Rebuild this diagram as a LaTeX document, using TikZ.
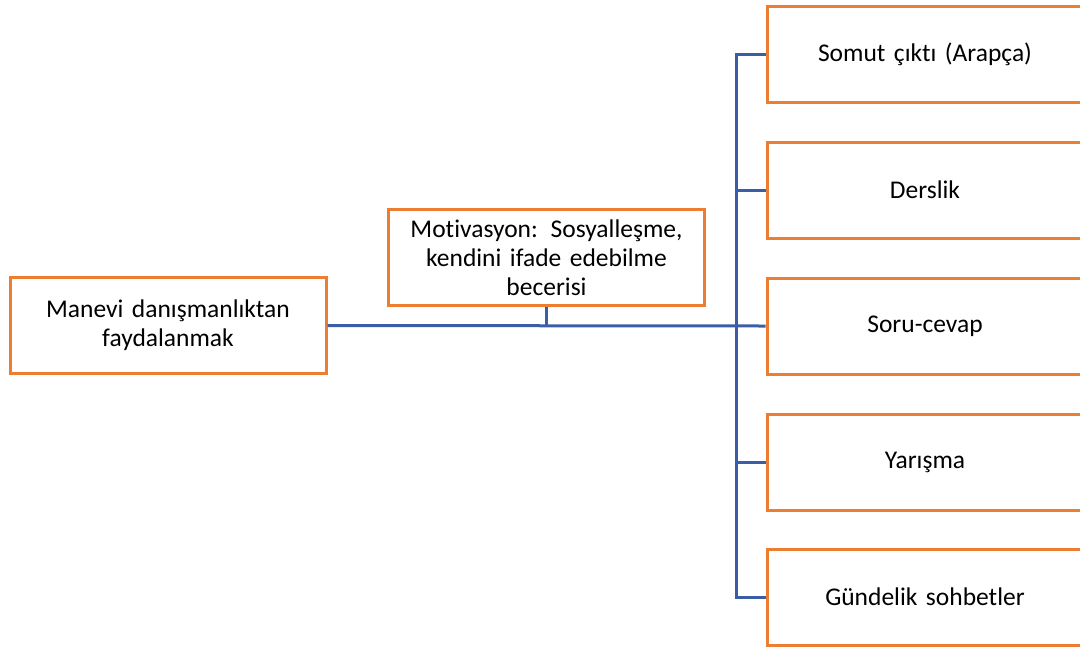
\documentclass[tikz,border=0pt]{standalone}
\usepackage{fontspec}
\setmainfont{Carlito}[Ligatures={NoCommon}]
\definecolor{boxorange}{HTML}{ED7D31}
\definecolor{linkblue}{HTML}{3A5DA8}
\begin{document}
\begin{tikzpicture}[x=1pt,y=-1pt,
  box/.style={draw=boxorange,line width=3pt,fill=white,minimum width=316pt,minimum height=96pt,
    inner sep=0pt,align=center,font=\fontsize{25.5}{29}\selectfont,text width=310pt},
  conn/.style={draw=linkblue,line width=3pt}]
\useasboundingbox (0,0) rectangle (1080,649);
\clip (0,0) rectangle (1080,649);
\node[box] (root) at (168,325.5) {Manevi danışmanlıktan\\faydalanmak};
\node[box] (mot) at (546.5,257.5) {Motivasyon: Sosyalleşme,\\kendini ifade edebilme\\becerisi};
\node[box] (b1) at (925,54) {Somut çıktı (Arapça)};
\node[box] (b2) at (925,190) {Derslik};
\node[box] (b3) at (925,326) {Soru-cevap};
\node[box] (b4) at (925,462) {Yarışma};
\node[box] (b5) at (925,597) {Gündelik sohbetler};
\coordinate (bus) at (736,326);
\coordinate (mj) at (546.5,326);
\draw[conn] (root.east) -- (b3.west);
\draw[conn] (mot.south) -- (mj);
\draw[conn] (b1.west) -- (b1.west -| bus) -- (b5.west -| bus) -- (b5.west);
\draw[conn] (b2.west) -- (b2.west -| bus);
\draw[conn] (b4.west) -- (b4.west -| bus);
\end{tikzpicture}
\end{document}
